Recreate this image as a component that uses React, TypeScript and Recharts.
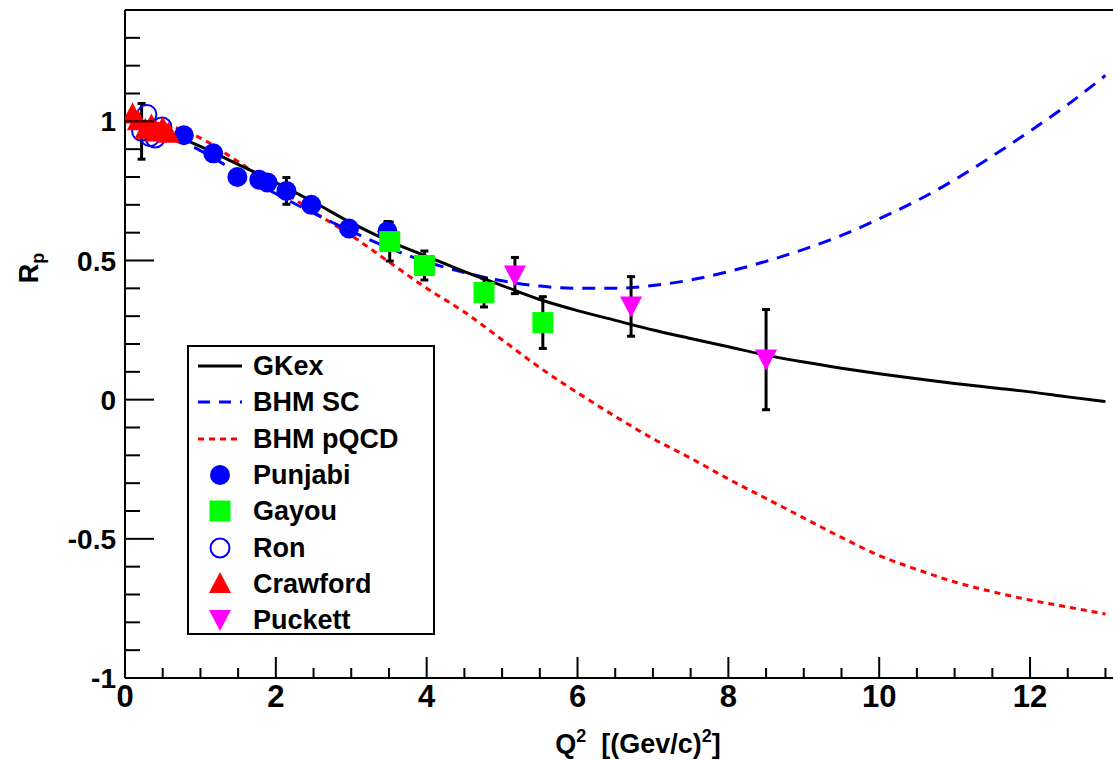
import React from "react";
import {
  ComposedChart,
  Line,
  Scatter,
  XAxis,
  YAxis,
  ErrorBar,
  ReferenceLine,
} from "recharts";

const FONT = "'Liberation Sans', Arial, Helvetica, sans-serif";

// model curves, sampled on a common Q^2 grid
const q2Grid = [
  0.1, 0.5, 1, 1.5, 2, 2.5, 3, 3.5, 4, 4.5, 5, 5.5, 6, 6.5, 7, 7.5, 8, 8.5, 9,
  9.5, 10, 10.5, 11, 11.5, 12, 12.5, 13,
];
const gkexY = [
  1.0, 0.965, 0.91, 0.845, 0.78, 0.71, 0.635, 0.57, 0.515, 0.46, 0.41, 0.36,
  0.32, 0.285, 0.25, 0.22, 0.19, 0.16, 0.135, 0.113, 0.093, 0.075, 0.058,
  0.043, 0.028, 0.01, -0.007,
];
const bhmScY = [
  0.99, 0.955, 0.895, 0.815, 0.74, 0.67, 0.605, 0.545, 0.495, 0.457, 0.427,
  0.408, 0.4, 0.4, 0.41, 0.43, 0.46, 0.497, 0.54, 0.59, 0.65, 0.715, 0.79,
  0.875, 0.965, 1.06, 1.165,
];
const bhmPqcdY = [
  1.0, 0.99, 0.94, 0.855, 0.765, 0.675, 0.59, 0.495, 0.4, 0.315, 0.215, 0.115,
  0.025, -0.06, -0.14, -0.21, -0.285, -0.355, -0.425, -0.495, -0.56, -0.61,
  -0.655, -0.69, -0.72, -0.745, -0.77,
];

// data sets
const punjabiX = [0.78, 1.17, 1.49, 1.78, 1.89, 2.14, 2.47, 2.97, 3.48];
const punjabiY = [0.95, 0.885, 0.8, 0.79, 0.78, 0.75, 0.7, 0.615, 0.605];
const punjabiErr = [0.02, 0.02, 0.02, 0.02, 0.02, 0.048, 0.025, 0.02, 0.035];

const gayouX = [3.51, 3.97, 4.76, 5.54];
const gayouY = [0.568, 0.482, 0.385, 0.277];
const gayouErr = [0.07, 0.052, 0.052, 0.093];

const ronX = [0.22, 0.29, 0.33, 0.4, 0.49];
const ronY = [0.964, 1.025, 0.945, 0.94, 0.98];
const ronErr = [0.1, null, null, null, null];

const crawfordX = [0.1, 0.17, 0.27, 0.35, 0.42, 0.5, 0.58];
const crawfordY = [1.025, 1.0, 0.97, 0.985, 0.96, 0.975, 0.955];

const puckettX = [5.17, 6.71, 8.5];
const puckettY = [0.446, 0.335, 0.144];
const puckettErr = [0.065, 0.107, 0.18];

// axis ticks
const xTicks = [
  0, 0.5, 1, 1.5, 2, 2.5, 3, 3.5, 4, 4.5, 5, 5.5, 6, 6.5, 7, 7.5, 8, 8.5, 9,
  9.5, 10, 10.5, 11, 11.5, 12, 12.5, 13,
];
const xMajor = [0, 2, 4, 6, 8, 10, 12];
const yTicks = [
  -1, -0.9, -0.8, -0.7, -0.6, -0.5, -0.4, -0.3, -0.2, -0.1, 0, 0.1, 0.2, 0.3,
  0.4, 0.5, 0.6, 0.7, 0.8, 0.9, 1, 1.1, 1.2, 1.3, 1.4,
];
const yMajor = [-1, -0.5, 0, 0.5, 1];

const toPoints = (xs: number[], ys: number[], errs?: (number | null)[]) =>
  xs.map((x, i) => ({ x, y: ys[i], err: errs ? errs[i] : undefined }));

const gkexData = toPoints(q2Grid, gkexY);
const bhmScData = toPoints(q2Grid, bhmScY);
const bhmPqcdData = toPoints(q2Grid, bhmPqcdY);
const punjabiData = toPoints(punjabiX, punjabiY, punjabiErr);
const gayouData = toPoints(gayouX, gayouY, gayouErr);
const ronData = toPoints(ronX, ronY, ronErr);
const crawfordData = toPoints(crawfordX, crawfordY);
const puckettData = toPoints(puckettX, puckettY, puckettErr);

const XTick = (props: any) => {
  const { x, y, payload } = props;
  const major = xMajor.includes(payload.value);
  return (
    <g>
      <line x1={x} y1={y} x2={x} y2={y - (major ? 21 : 10)} stroke="#000" strokeWidth={2} />
      {major && (
        <text x={x} y={y + 29} textAnchor="middle" fontSize={31} fontWeight="bold" fontFamily={FONT} fill="#000">
          {payload.value}
        </text>
      )}
    </g>
  );
};

const YTick = (props: any) => {
  const { x, y, payload } = props;
  const major = yMajor.includes(payload.value);
  return (
    <g>
      <line x1={x} y1={y} x2={x + (major ? 29 : 15)} y2={y} stroke="#000" strokeWidth={2} />
      {major && (
        <text x={x - 9} y={y + 10} textAnchor="end" fontSize={28} fontWeight="bold" fontFamily={FONT} fill="#000">
          {payload.value}
        </text>
      )}
    </g>
  );
};

const FilledCircle = (p: any) => <circle cx={p.cx} cy={p.cy} r={10} fill="#0000ff" />;
const OpenCircle = (p: any) => (
  <circle cx={p.cx} cy={p.cy} r={9.5} fill="none" stroke="#0000ff" strokeWidth={2} />
);
const Square = (p: any) => <rect x={p.cx - 10.5} y={p.cy - 10.5} width={21} height={21} fill="#00ff00" />;
const UpTriangle = (p: any) => (
  <path d={`M${p.cx},${p.cy - 12} L${p.cx + 11},${p.cy + 9} L${p.cx - 11},${p.cy + 9} Z`} fill="#ff0000" />
);
const DownTriangle = (p: any) => (
  <path d={`M${p.cx},${p.cy + 11} L${p.cx + 11},${p.cy - 10} L${p.cx - 11},${p.cy - 10} Z`} fill="#ff00ff" />
);

const legendItems = [
  { label: "GKex", kind: "line", color: "#000000", dash: "" },
  { label: "BHM SC", kind: "line", color: "#0000ff", dash: "12 9" },
  { label: "BHM pQCD", kind: "line", color: "#ff0000", dash: "6 5" },
  { label: "Punjabi", kind: "dot" },
  { label: "Gayou", kind: "square" },
  { label: "Ron", kind: "open" },
  { label: "Crawford", kind: "up" },
  { label: "Puckett", kind: "down" },
];

const LegendIcon = ({ item }: { item: any }) => {
  const c = { cx: 22, cy: 12 };
  let shape: React.ReactNode = null;
  if (item.kind === "line")
    shape = <line x1={0} y1={12} x2={44} y2={12} stroke={item.color} strokeWidth={3} strokeDasharray={item.dash} />;
  else if (item.kind === "dot") shape = <FilledCircle {...c} />;
  else if (item.kind === "square") shape = <Square {...c} />;
  else if (item.kind === "open") shape = <OpenCircle {...c} />;
  else if (item.kind === "up") shape = <UpTriangle {...c} />;
  else shape = <DownTriangle {...c} />;
  return (
    <svg width={44} height={24} style={{ overflow: "visible" }}>
      {shape}
    </svg>
  );
};

const supStyle: React.CSSProperties = { fontSize: 18, position: "relative", top: -11, lineHeight: 0 };

const App: React.FC = () => {
  return (
    <div style={{ position: "absolute", left: 0, top: 0, width: 1113, height: 760, background: "#fff", fontFamily: FONT }}>
      <ComposedChart width={1113} height={760} margin={{ top: 10, right: 0, left: 0, bottom: 0 }}>
        <XAxis
          dataKey="x"
          type="number"
          domain={[0, 13.1]}
          ticks={xTicks}
          interval={0}
          tick={<XTick />}
          tickLine={false}
          tickSize={0}
          tickMargin={0}
          axisLine={{ stroke: "#000", strokeWidth: 2 }}
          height={82}
          allowDataOverflow
        />
        <YAxis
          dataKey="y"
          type="number"
          domain={[-1, 1.4]}
          ticks={yTicks}
          interval={0}
          tick={<YTick />}
          tickLine={false}
          tickSize={0}
          tickMargin={0}
          axisLine={{ stroke: "#000", strokeWidth: 2 }}
          width={125}
          allowDataOverflow
        />
        <ReferenceLine y={1.4} stroke="#000" strokeWidth={2} />

        <Line data={bhmPqcdData} dataKey="y" type="monotone" stroke="#ff0000" strokeWidth={3} strokeDasharray="6 5" dot={false} isAnimationActive={false} />
        <Line data={bhmScData} dataKey="y" type="monotone" stroke="#0000ff" strokeWidth={3} strokeDasharray="13 9" dot={false} isAnimationActive={false} />
        <Line data={gkexData} dataKey="y" type="monotone" stroke="#000000" strokeWidth={3} dot={false} isAnimationActive={false} />

        <Scatter data={punjabiData} dataKey="y" shape={FilledCircle} isAnimationActive={false}>
          <ErrorBar dataKey="err" direction="y" width={4} stroke="#000" strokeWidth={3} />
        </Scatter>
        <Scatter data={ronData} dataKey="y" shape={OpenCircle} isAnimationActive={false}>
          <ErrorBar dataKey="err" direction="y" width={4} stroke="#000" strokeWidth={3} />
        </Scatter>
        <Scatter data={crawfordData} dataKey="y" shape={UpTriangle} isAnimationActive={false} />
        <Scatter data={gayouData} dataKey="y" shape={Square} isAnimationActive={false}>
          <ErrorBar dataKey="err" direction="y" width={4} stroke="#000" strokeWidth={3} />
        </Scatter>
        <Scatter data={puckettData} dataKey="y" shape={DownTriangle} isAnimationActive={false}>
          <ErrorBar dataKey="err" direction="y" width={4} stroke="#000" strokeWidth={3} />
        </Scatter>
      </ComposedChart>

      {/* axis titles */}
      <div style={{ position: "absolute", left: 0, top: 730, width: 1276, textAlign: "center", fontSize: 27, fontWeight: "bold", color: "#000", whiteSpace: "nowrap", lineHeight: "28px" }}>
        Q<span style={supStyle}>2</span>&nbsp;&nbsp;[(Gev/c)<span style={supStyle}>2</span>]
      </div>
      <div style={{ position: "absolute", left: 30, top: 268, transform: "translate(-50%, -50%) rotate(-90deg)", fontSize: 27, fontWeight: "bold", color: "#000", whiteSpace: "nowrap", lineHeight: "28px" }}>
        R<span style={{ fontSize: 18, position: "relative", top: 6 }}>p</span>
      </div>

      {/* legend box */}
      <div style={{ position: "absolute", left: 187, top: 345, width: 244, height: 286, border: "2px solid #000", background: "#fff", boxSizing: "content-box" }}>
        {legendItems.map((item, i) => (
          <div key={item.label} style={{ position: "absolute", left: 9, top: 7 + i * 36.3, height: 24, display: "flex", alignItems: "center" }}>
            <LegendIcon item={item} />
            <span style={{ marginLeft: 11, fontSize: 27, fontWeight: "bold", color: "#000", lineHeight: "24px" }}>{item.label}</span>
          </div>
        ))}
      </div>
    </div>
  );
};

export default App;
